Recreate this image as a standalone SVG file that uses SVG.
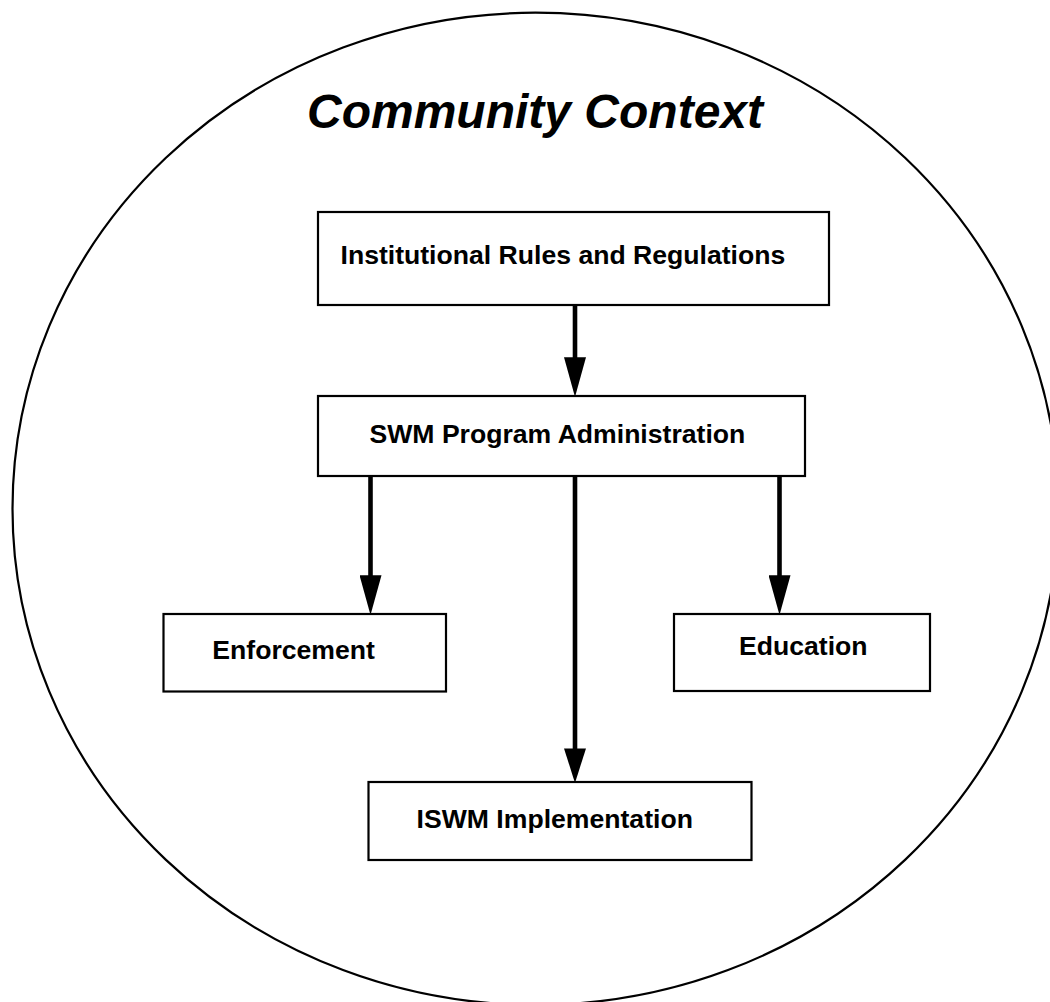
<svg xmlns="http://www.w3.org/2000/svg" width="1050" height="1002" viewBox="0 0 1050 1002">
  <style>
    .frame { fill: none; stroke: #000; stroke-width: 2.2; }
    .box { fill: #fff; stroke: #000; stroke-width: 2.2; }
    .label { font-family: "Liberation Sans", Arial, sans-serif; font-weight: bold; font-size: 26.6px; fill: #000; }
    .title { font-family: "Liberation Sans", Arial, sans-serif; font-weight: bold; font-style: italic; font-size: 48px; fill: #000; }
    .link { fill: none; stroke: #000; stroke-width: 4.6; }
  </style>
  <defs>
    <marker id="head" markerUnits="userSpaceOnUse" markerWidth="40" markerHeight="22" viewBox="0 0 38 21" refX="18" refY="10.5" orient="auto">
      <path d="M0,0 L38,10.5 L0,21 Z" fill="#000"/>
    </marker>
    <marker id="head-short" markerUnits="userSpaceOnUse" markerWidth="35" markerHeight="22" viewBox="0 0 33 21" refX="13" refY="10.5" orient="auto">
      <path d="M0,0 L33,10.5 L0,21 Z" fill="#000"/>
    </marker>
  </defs>

  <rect width="1050" height="1002" fill="#fff"/>

  <!-- surrounding community boundary -->
  <g id="community">
    <ellipse class="frame" cx="535.5" cy="508.8" rx="523" ry="496.1"/>
    <text class="title" x="307" y="128.3">Community Context</text>
  </g>

  <g id="rules">
    <rect class="box" x="318" y="212" width="511" height="93"/>
    <text class="label" x="340.5" y="264.3">Institutional Rules and Regulations</text>
  </g>

  <g id="admin">
    <rect class="box" x="318" y="396" width="487" height="80"/>
    <text class="label" x="369.5" y="443.3">SWM Program Administration</text>
  </g>

  <g id="enforcement">
    <rect class="box" x="163.5" y="614" width="282.5" height="77.5"/>
    <text class="label" x="212.3" y="659">Enforcement</text>
  </g>

  <g id="education">
    <rect class="box" x="674" y="614" width="256" height="77"/>
    <text class="label" x="739" y="655">Education</text>
  </g>

  <g id="implementation">
    <rect class="box" x="368.5" y="782" width="383" height="78"/>
    <text class="label" x="416.6" y="828.3">ISWM Implementation</text>
  </g>

  <!-- connectors -->
  <g id="connectors">
    <line class="link" x1="575" y1="306" x2="575" y2="376" marker-end="url(#head)"/>
    <line class="link" x1="370.5" y1="477" x2="370.5" y2="594" marker-end="url(#head)"/>
    <line class="link" x1="575" y1="477" x2="575" y2="762" marker-end="url(#head-short)"/>
    <line class="link" x1="779.5" y1="477" x2="779.5" y2="594" marker-end="url(#head)"/>
  </g>
</svg>
